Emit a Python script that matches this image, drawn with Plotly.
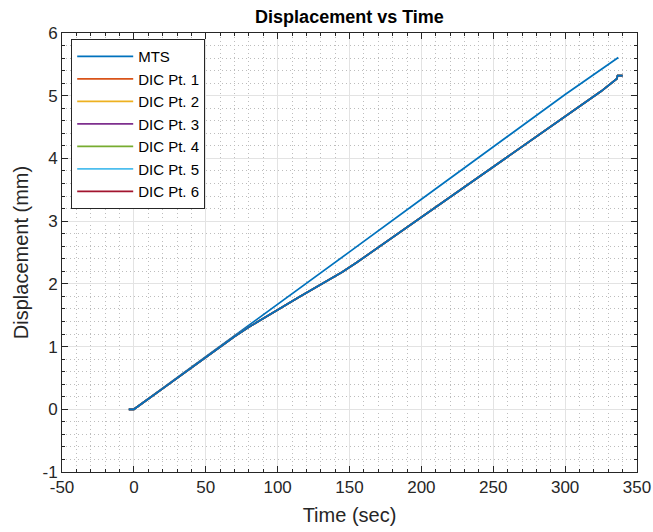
import plotly.graph_objects as go

# MTS crosshead displacement (straight ramp)
mts_time = [-3.5, 0, 50, 100, 150, 200, 250, 300, 337]
mts_disp = [0.0, 0.0, 0.84, 1.67, 2.51, 3.35, 4.18, 5.02, 5.61]

# DIC point displacement (all six points track the same curve)
dic_time = [-3.5, 0, 20, 40, 60, 70, 80, 90, 100, 115, 130, 145, 155, 165, 180,
            200, 220, 240, 260, 280, 300, 317, 325, 336, 336.5, 340]
dic_disp = [0.0, 0.0, 0.33, 0.665, 1.0, 1.16, 1.31, 1.45, 1.59, 1.79, 1.99, 2.19,
            2.34, 2.50, 2.74, 3.06, 3.38, 3.70, 4.02, 4.34, 4.66, 4.93, 5.07,
            5.27, 5.32, 5.32]

dic_names = ["DIC Pt. 1", "DIC Pt. 2", "DIC Pt. 3", "DIC Pt. 4", "DIC Pt. 5", "DIC Pt. 6"]
dic_colors = ["#D95319", "#EDB120", "#7E2F8E", "#77AC30", "#4DBEEE", "#A2142F"]
mts_color = "#0072BD"

# axis ticks
x_ticks = [-50, 0, 50, 100, 150, 200, 250, 300, 350]
x_labels = ["-50", "0", "50", "100", "150", "200", "250", "300", "350"]
y_ticks = [-1, 0, 1, 2, 3, 4, 5, 6]
y_labels = ["-1", "0", "1", "2", "3", "4", "5", "6"]

FONT = "Liberation Sans, Arial, sans-serif"
AX = "#262626"

fig = go.Figure()

fig.add_trace(go.Scatter(x=mts_time, y=mts_disp, mode="lines", name="MTS",
                         line=dict(color=mts_color, width=1.7)))
for nm, c in zip(dic_names, dic_colors):
    fig.add_trace(go.Scatter(x=dic_time, y=dic_disp, mode="lines", name=nm,
                             line=dict(color=c, width=1.7)))
# overlay of the DIC curve in the primary colour
fig.add_trace(go.Scatter(x=dic_time, y=dic_disp, mode="lines", showlegend=False,
                         line=dict(color=mts_color, width=1.7), hoverinfo="skip"))

axis_common = dict(
    showline=True, linecolor=AX, linewidth=1, mirror="ticks",
    ticks="inside", ticklen=6, tickcolor=AX, tickwidth=1,
    showgrid=True, gridcolor="#E3E3E3", gridwidth=1, zeroline=False,
    automargin=False,
    tickfont=dict(family=FONT, size=17, color=AX),
    minor=dict(ticks="inside", ticklen=3, tickcolor=AX, showgrid=True,
               gridcolor="#BDBDBD", griddash="1px,3px", gridwidth=1),
)

fig.update_xaxes(range=[-50, 350], tickmode="array", tickvals=x_ticks, ticktext=x_labels,
                 minor_dtick=10, minor_tick0=0,
                 title=dict(text="Time (sec)", standoff=11,
                            font=dict(family=FONT, size=20, color=AX)),
                 **axis_common)
fig.update_yaxes(range=[-1, 6], tickmode="array", tickvals=y_ticks, ticktext=y_labels,
                 minor_dtick=0.2, minor_tick0=0,
                 title=dict(text="Displacement (mm)", standoff=8,
                            font=dict(family=FONT, size=20, color=AX)),
                 **axis_common)

fig.update_layout(
    width=653, height=532,
    margin=dict(l=62, r=16, t=33, b=60, autoexpand=False),
    paper_bgcolor="white", plot_bgcolor="white",
    title=dict(text="<b>Displacement vs Time</b>", x=0.5, xref="paper",
               y=1 - 17 / 532, yref="container", yanchor="middle",
               font=dict(family=FONT, size=18, color="black")),
    legend=dict(x=0.016, y=0.986, xanchor="left", yanchor="top",
                bgcolor="white", bordercolor=AX, borderwidth=1,
                font=dict(family=FONT, size=15, color="black"),
                itemwidth=56, tracegroupgap=0),
    showlegend=True,
)

fig.write_html("out.html")
